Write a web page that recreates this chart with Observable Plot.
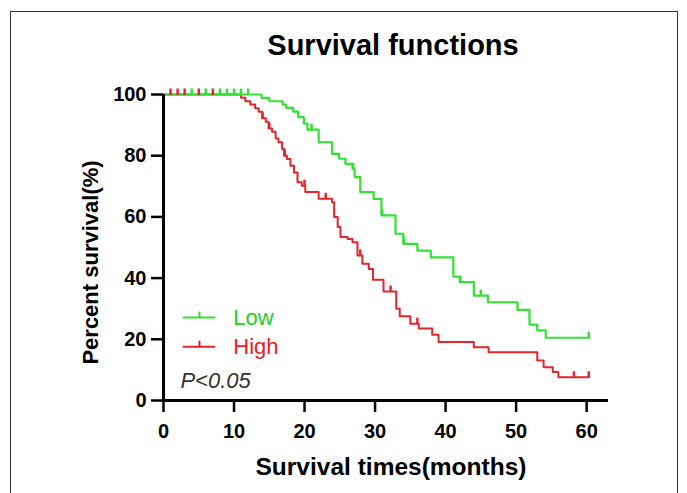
<!DOCTYPE html>
<html><head><meta charset="utf-8">
<script src="https://cdn.jsdelivr.net/npm/d3@7"></script>
<script src="https://cdn.jsdelivr.net/npm/@observablehq/plot@0.6"></script>
<style>
body{margin:0;background:#fff;}
#wrap{position:relative;width:687px;height:493px;overflow:hidden;background:#fff;}
#border{position:absolute;left:10px;top:11px;width:666px;height:520px;border:1.5px solid #333;}
#chart{position:absolute;left:0;top:0;}
</style></head><body>
<div id="wrap"><div id="border"></div><div id="chart"></div></div>
<script>
// Low group: event times (months) and survival (%) after each event
const lowTimes = [13.9, 15.0, 16.9, 17.4, 18.4, 19.1, 19.9, 20.4, 22.0, 23.9, 24.9, 25.8, 26.8, 27.1, 27.9, 29.8, 30.9, 32.9, 34.0, 36.0, 37.9, 41.1, 42.0, 44.0, 46.0, 50.2, 51.9, 53.0, 54.2];
const lowSurv  = [98.9, 97.8, 96.7, 95.6, 94.4, 92.6, 90.5, 88.5, 84.4, 80.6, 79.0, 77.3, 75.7, 73.0, 68.1, 65.9, 60.5, 54.5, 51.2, 49.0, 46.8, 40.5, 38.7, 34.3, 32.1, 29.6, 24.8, 22.9, 20.5];
const lowCensor = [4, 6, 8, 9, 10, 11, 12, 21.0, 26.9, 31.0, 34.1, 42.1, 45.0, 60.3];
const lowEnd = 60.3;

// High group
const highTimes = [11.0, 11.6, 12.3, 13.0, 13.5, 14.0, 14.5, 14.9, 15.4, 15.9, 16.3, 16.8, 17.1, 17.5, 18.0, 18.5, 19.0, 19.6, 20.1, 22.0, 23.9, 24.2, 24.7, 25.1, 26.1, 26.8, 27.5, 28.2, 29.1, 29.7, 31.2, 33.0, 33.5, 35.0, 36.2, 38.1, 39.0, 44.0, 46.1, 53.0, 53.9, 55.2, 56.0];
const highSurv  = [98.9, 97.8, 96.7, 95.5, 94.4, 92.2, 91.1, 88.9, 87.8, 85.6, 84.4, 82.2, 80.0, 78.9, 76.7, 74.5, 71.3, 70.2, 68.1, 65.9, 64.8, 60.0, 56.7, 53.4, 52.8, 51.7, 47.4, 44.7, 43.0, 39.5, 35.6, 30.0, 27.5, 25.1, 23.5, 21.5, 19.1, 17.4, 15.8, 13.1, 10.9, 9.3, 7.6];
const highCensor = [1, 2, 3, 5, 7, 14.05, 15.0, 17.2, 20.0, 23.0, 27.9, 32.2, 36.0, 58.2, 60.3];
const highEnd = 60.3;

const groups = ["Low", "High"];
const groupColors = ["#36e036", "#e3262e"];
const textColors = ["#27cc27", "#ea1c25"];
const xTicks = [0, 10, 20, 30, 40, 50, 60];
const yTicks = [0, 20, 40, 60, 80, 100];

function stepLine(times, surv, end) {
  const pts = [{t: 0, s: 100}];
  times.forEach((t, i) => pts.push({t, s: surv[i]}));
  pts.push({t: end, s: surv[surv.length - 1]});
  return pts;
}
function survAt(times, surv, t) {
  let v = 100;
  times.forEach((tt, i) => { if (tt <= t) v = surv[i]; });
  return v;
}
const lowLine = stepLine(lowTimes, lowSurv, lowEnd);
const highLine = stepLine(highTimes, highSurv, highEnd);
const lowMarks = lowCensor.map(t => ({t, s: survAt(lowTimes, lowSurv, t)}));
const highMarks = highCensor.map(t => ({t, s: survAt(highTimes, highSurv, t)}));

const tickUp = {draw(ctx, size) { ctx.moveTo(0, 0.5); ctx.lineTo(0, -6); }};

// legend layout (data units)
const legend = groups.map((g, i) => ({g, i, y: i === 0 ? 27.1 : 17.6}));

const chart = Plot.plot({
  width: 687, height: 493,
  marginLeft: 163, marginRight: 79, marginTop: 94, marginBottom: 93,
  style: {fontFamily: "'Liberation Sans', Arial, sans-serif", color: "#000", background: "transparent"},
  x: {domain: [0, 63.1]},
  y: {domain: [0, 100]},
  marks: [
    Plot.axisX({ticks: xTicks, tickSize: 12, tickPadding: 11, fontSize: 20, fontWeight: "bold", strokeWidth: 2.5, label: null}),
    Plot.axisY({ticks: yTicks, tickSize: 12, tickPadding: 5, fontSize: 20, fontWeight: "bold", strokeWidth: 2.5, label: null}),
    Plot.line(highLine, {x: "t", y: "s", curve: "step-after", stroke: groupColors[1], strokeWidth: 2}),
    Plot.line(lowLine, {x: "t", y: "s", curve: "step-after", stroke: groupColors[0], strokeWidth: 2.2}),
    Plot.dot(highMarks, {x: "t", y: "s", symbol: tickUp, stroke: groupColors[1], strokeWidth: 2.5, fill: "none"}),
    Plot.dot(lowMarks, {x: "t", y: "s", symbol: tickUp, stroke: groupColors[0], strokeWidth: 2.5, fill: "none"}),
    Plot.ruleX([0], {strokeWidth: 3, stroke: "#000"}),
    Plot.ruleY([0], {strokeWidth: 3, stroke: "#000"}),
    // legend
    Plot.ruleY(legend, {y: "y", x1: 2.8, x2: 7.4, stroke: d => groupColors[d.i], strokeWidth: 2}),
    Plot.dot(legend, {x: 5.1, y: "y", symbol: tickUp, stroke: d => groupColors[d.i], strokeWidth: 2, fill: "none"}),
    Plot.text(legend, {x: 9.9, y: "y", text: "g", textAnchor: "start", fill: d => textColors[d.i], fontSize: 22}),
    Plot.text(["P<0.05"], {x: 2.4, y: 6.5, textAnchor: "start", fontSize: 22, fontStyle: "italic", fill: "#333"}),
    // titles
    Plot.text(["Survival functions"], {frameAnchor: "top", lineAnchor: "middle", dx: 7, dy: -49, fontSize: 29, fontWeight: "bold"}),
    Plot.text(["Survival times(months)"], {frameAnchor: "bottom", lineAnchor: "middle", dx: 5, dy: 67, fontSize: 24.5, fontWeight: "bold"}),
    Plot.text(["Percent survival(%)"], {frameAnchor: "left", textAnchor: "middle", lineAnchor: "middle", dx: -73, dy: 15, rotate: -90, fontSize: 22, fontWeight: "bold"})
  ]
});
document.getElementById("chart").appendChild(chart);
</script>
</body></html>
